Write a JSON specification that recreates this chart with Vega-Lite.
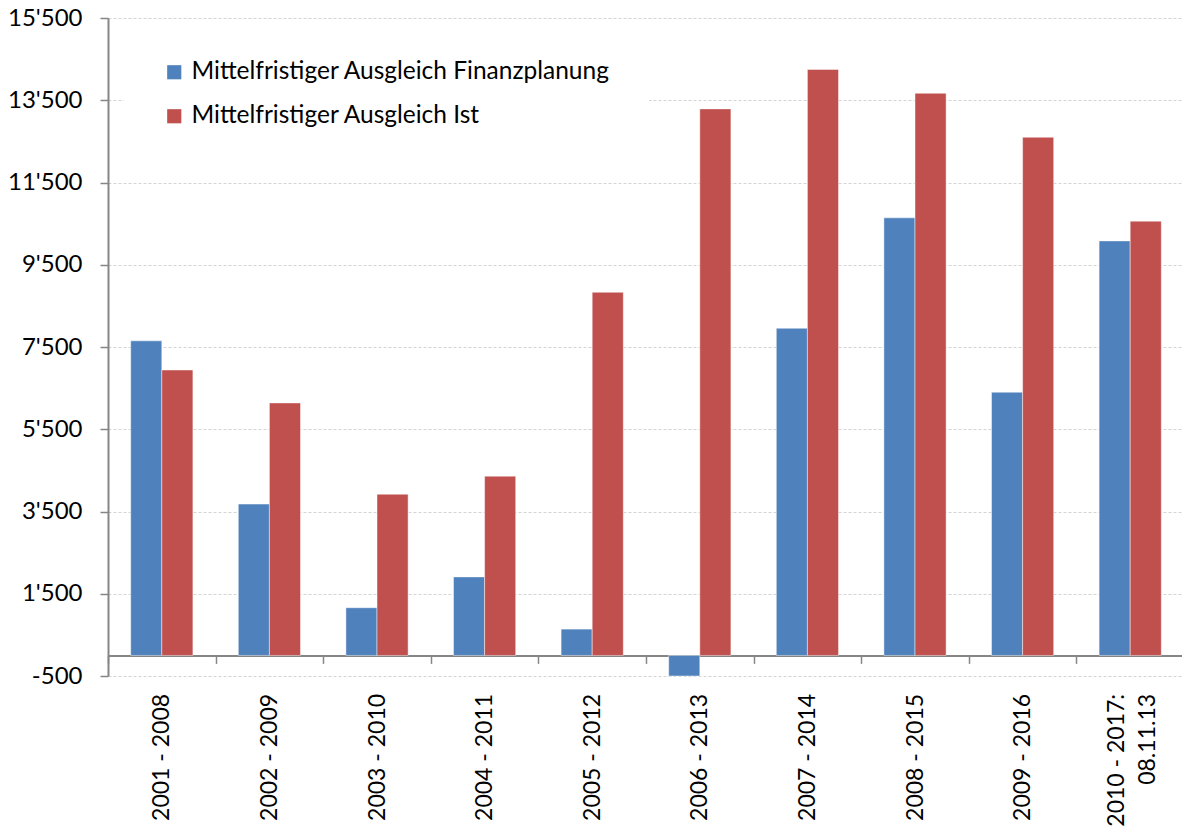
{
  "$schema": "https://vega.github.io/schema/vega-lite/v6.json",
  "autosize": {"type": "none"},
  "padding": {"left": 108, "top": 18, "right": 0, "bottom": 154},
  "width": 1076,
  "height": 658,
  "background": "white",
  "config": {
    "view": {"stroke": null},
    "font": "Lato"
  },
  "data": {
    "values": [
      {"period": "2001 - 2008", "series": "Mittelfristiger Ausgleich Finanzplanung", "value": 7650},
      {"period": "2001 - 2008", "series": "Mittelfristiger Ausgleich Ist", "value": 6940},
      {"period": "2002 - 2009", "series": "Mittelfristiger Ausgleich Finanzplanung", "value": 3680},
      {"period": "2002 - 2009", "series": "Mittelfristiger Ausgleich Ist", "value": 6140},
      {"period": "2003 - 2010", "series": "Mittelfristiger Ausgleich Finanzplanung", "value": 1160},
      {"period": "2003 - 2010", "series": "Mittelfristiger Ausgleich Ist", "value": 3920},
      {"period": "2004 - 2011", "series": "Mittelfristiger Ausgleich Finanzplanung", "value": 1910},
      {"period": "2004 - 2011", "series": "Mittelfristiger Ausgleich Ist", "value": 4360},
      {"period": "2005 - 2012", "series": "Mittelfristiger Ausgleich Finanzplanung", "value": 640},
      {"period": "2005 - 2012", "series": "Mittelfristiger Ausgleich Ist", "value": 8830},
      {"period": "2006 - 2013", "series": "Mittelfristiger Ausgleich Finanzplanung", "value": -500},
      {"period": "2006 - 2013", "series": "Mittelfristiger Ausgleich Ist", "value": 13290},
      {"period": "2007 - 2014", "series": "Mittelfristiger Ausgleich Finanzplanung", "value": 7955},
      {"period": "2007 - 2014", "series": "Mittelfristiger Ausgleich Ist", "value": 14250},
      {"period": "2008 - 2015", "series": "Mittelfristiger Ausgleich Finanzplanung", "value": 10640},
      {"period": "2008 - 2015", "series": "Mittelfristiger Ausgleich Ist", "value": 13670},
      {"period": "2009 - 2016", "series": "Mittelfristiger Ausgleich Finanzplanung", "value": 6400},
      {"period": "2009 - 2016", "series": "Mittelfristiger Ausgleich Ist", "value": 12600},
      {"period": "2010 - 2017: 08.11.13", "series": "Mittelfristiger Ausgleich Finanzplanung", "value": 10080},
      {"period": "2010 - 2017: 08.11.13", "series": "Mittelfristiger Ausgleich Ist", "value": 10560}
    ]
  },
  "mark": {"type": "bar", "stroke": "#ffffff", "strokeOpacity": 0.45, "strokeWidth": 1},
  "encoding": {
    "x": {
      "field": "period",
      "type": "nominal",
      "sort": null,
      "scale": {"paddingInner": 0, "paddingOuter": 0},
      "axis": {
        "title": null,
        "offset": -20.6,
        "tickBand": "extent",
        "domainColor": "#868686",
        "domainWidth": 2,
        "tickColor": "#868686",
        "tickWidth": 1.5,
        "tickSize": 8,
        "labelAngle": -90,
        "labelAlign": "right",
        "labelBaseline": "middle",
        "labelPadding": 30,
        "labelOffset": {"condition": {"test": "datum.value == '2010 - 2017: 08.11.13'", "value": -14}, "value": 0},
        "labelFont": "Lato",
        "labelFontSize": 23,
        "labelColor": "#000000",
        "labelLineHeight": 31,
        "labelLimit": 400,
        "labelExpr": "datum.value == '2010 - 2017: 08.11.13' ? ['2010 - 2017:', '08.11.13\u2003'] : datum.label"
      }
    },
    "xOffset": {
      "field": "series",
      "type": "nominal",
      "sort": ["Mittelfristiger Ausgleich Finanzplanung", "Mittelfristiger Ausgleich Ist"],
      "scale": {"paddingInner": 0, "paddingOuter": 0.73}
    },
    "y": {
      "field": "value",
      "type": "quantitative",
      "scale": {"domain": [-500, 15500], "nice": false, "zero": false},
      "axis": {
        "title": null,
        "values": [-500, 1500, 3500, 5500, 7500, 9500, 11500, 13500, 15500],
        "labelExpr": "replace(replace(format(datum.value, ','), ',', \"'\"), '−', '-')",
        "labelFont": "Lato",
        "labelFontSize": 24,
        "labelColor": "#000000",
        "labelPadding": 18,
        "domainColor": "#868686",
        "domainWidth": 2,
        "tickColor": "#868686",
        "tickWidth": 1.5,
        "tickSize": 8,
        "grid": true,
        "gridColor": "#d4d4d4",
        "gridDash": [3, 2],
        "gridWidth": 1
      }
    },
    "color": {
      "field": "series",
      "type": "nominal",
      "scale": {
        "domain": ["Mittelfristiger Ausgleich Finanzplanung", "Mittelfristiger Ausgleich Ist"],
        "range": ["#4F81BD", "#C0504D"]
      },
      "legend": {
        "title": null,
        "orient": "none",
        "legendX": 16,
        "legendY": 4,
        "padding": 38,
        "fillColor": "#ffffff",
        "symbolType": "square",
        "symbolSize": 200,
        "symbolStrokeWidth": 0,
        "symbolOpacity": 1,
        "labelFont": "Lato",
        "labelFontSize": 24.5,
        "labelColor": "#000000",
        "labelOffset": 5,
        "labelLimit": 600,
        "rowPadding": 19
      }
    }
  }
}
